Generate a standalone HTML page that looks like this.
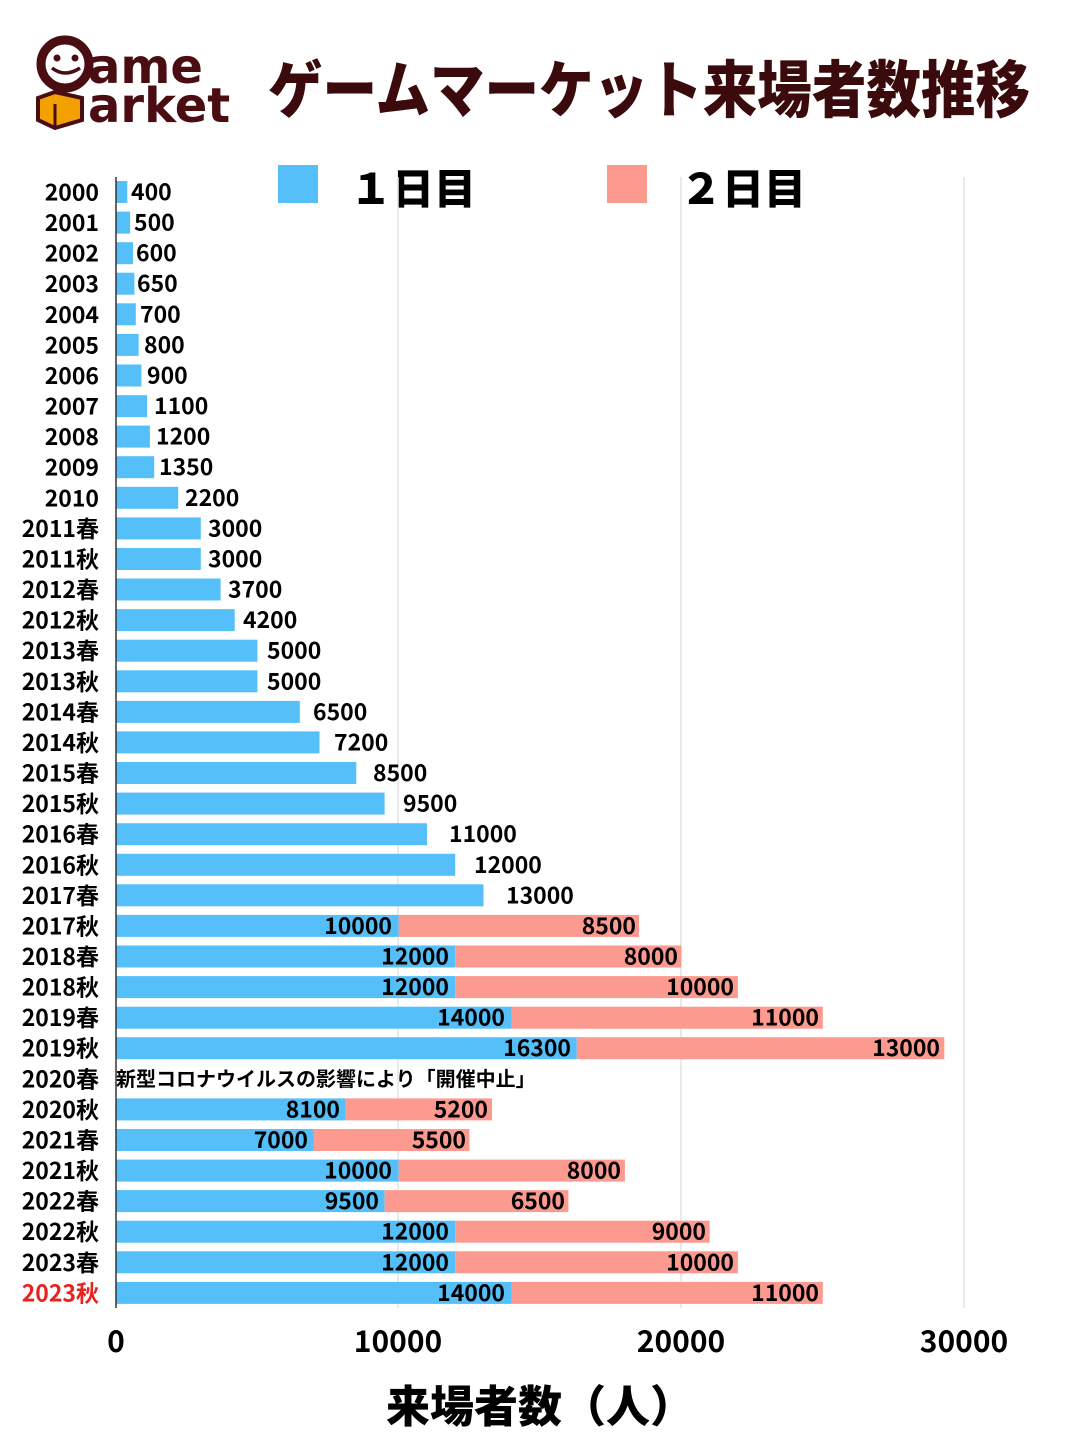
<!DOCTYPE html>
<html><head><meta charset="utf-8"><style>
html,body{margin:0;padding:0;background:#fff;}
svg text{font-family:"Noto Sans CJK JP","Liberation Sans",sans-serif;font-weight:bold;}
.b{fill:#55bffa}.p{fill:#fd9a8f}
.y{font-size:23px;text-anchor:end}
.v{font-size:23px}
.e{font-size:23px;text-anchor:end}
</style></head><body>
<svg width="1080" height="1440" xmlns="http://www.w3.org/2000/svg">
<rect width="1080" height="1440" fill="#fff"/>
<g fill="#4a0d12">
<circle cx="65" cy="64" r="24" fill="none" stroke="#4a0d12" stroke-width="9"/>
<circle cx="57" cy="58" r="3.5"/><circle cx="75" cy="58" r="3.5"/>
<path d="M52 68 Q65 78 80 68" stroke="#4a0d12" stroke-width="3.5" fill="none"/>
<text x="88" y="83" font-size="48" style="font-family:'DejaVu Sans',sans-serif">ame</text>
<text x="88" y="122" font-size="48" style="font-family:'DejaVu Sans',sans-serif">arket</text>
</g>
<path d="M38 98 L55 92 L82 98 L82 120 L55 128 L38 120 Z" fill="#f3a100" stroke="#4a0d12" stroke-width="4"/>
<path d="M55 104 L55 128" stroke="#4a0d12" stroke-width="3"/>
<text x="268" y="112" font-size="62" fill="#3a0a0c" style="font-weight:900;font-family:'Noto Sans CJK JP',sans-serif" textLength="762" lengthAdjust="spacingAndGlyphs">ゲームマーケット来場者数推移</text>
<rect x="278" y="165" width="40" height="38" fill="#55bffa"/>
<text x="350" y="204" font-size="42" style="font-family:'Noto Sans CJK JP',sans-serif;font-weight:900">１日目</text>
<rect x="607" y="165" width="40" height="38" fill="#fd9a8f"/>
<text x="680" y="204" font-size="42" style="font-family:'Noto Sans CJK JP',sans-serif;font-weight:900">２日目</text>
<g stroke="#e4e4e4" stroke-width="1.5">
<line x1="398" y1="177" x2="398" y2="1308"/>
<line x1="681" y1="177" x2="681" y2="1308"/>
<line x1="964" y1="177" x2="964" y2="1308"/>
</g>
<text class="y" x="99" y="200.5">2000</text>
<text class="y" x="99" y="231">2001</text>
<text class="y" x="99" y="261.6">2002</text>
<text class="y" x="99" y="292.2">2003</text>
<text class="y" x="99" y="322.8">2004</text>
<text class="y" x="99" y="353.4">2005</text>
<text class="y" x="99" y="384">2006</text>
<text class="y" x="99" y="414.5">2007</text>
<text class="y" x="99" y="445.1">2008</text>
<text class="y" x="99" y="475.7">2009</text>
<text class="y" x="99" y="506.3">2010</text>
<text class="y" x="99" y="536.9">2011春</text>
<text class="y" x="99" y="567.5">2011秋</text>
<text class="y" x="99" y="598">2012春</text>
<text class="y" x="99" y="628.6">2012秋</text>
<text class="y" x="99" y="659.2">2013春</text>
<text class="y" x="99" y="689.8">2013秋</text>
<text class="y" x="99" y="720.4">2014春</text>
<text class="y" x="99" y="750.9">2014秋</text>
<text class="y" x="99" y="781.5">2015春</text>
<text class="y" x="99" y="812.1">2015秋</text>
<text class="y" x="99" y="842.7">2016春</text>
<text class="y" x="99" y="873.3">2016秋</text>
<text class="y" x="99" y="903.8">2017春</text>
<text class="y" x="99" y="934.4">2017秋</text>
<text class="y" x="99" y="965">2018春</text>
<text class="y" x="99" y="995.6">2018秋</text>
<text class="y" x="99" y="1026.2">2019春</text>
<text class="y" x="99" y="1056.7">2019秋</text>
<text class="y" x="99" y="1087.3">2020春</text>
<text class="y" x="99" y="1117.9">2020秋</text>
<text class="y" x="99" y="1148.5">2021春</text>
<text class="y" x="99" y="1179.1">2021秋</text>
<text class="y" x="99" y="1209.6">2022春</text>
<text class="y" x="99" y="1240.2">2022秋</text>
<text class="y" x="99" y="1270.8">2023春</text>
<text class="y" x="99" y="1301.4" fill="#e8231e">2023秋</text>
<rect class="b" x="116" y="181" width="11.3" height="22"/><text class="v" x="131" y="200">400</text>
<rect class="b" x="116" y="211.6" width="14.1" height="22"/><text class="v" x="134" y="230.6">500</text>
<rect class="b" x="116" y="242.2" width="17" height="22"/><text class="v" x="136" y="261.2">600</text>
<rect class="b" x="116" y="272.7" width="18.4" height="22"/><text class="v" x="137" y="291.7">650</text>
<rect class="b" x="116" y="303.3" width="19.8" height="22"/><text class="v" x="140" y="322.3">700</text>
<rect class="b" x="116" y="333.9" width="22.6" height="22"/><text class="v" x="144" y="352.9">800</text>
<rect class="b" x="116" y="364.5" width="25.4" height="22"/><text class="v" x="147" y="383.5">900</text>
<rect class="b" x="116" y="395.1" width="31.1" height="22"/><text class="v" x="154" y="414.1">1100</text>
<rect class="b" x="116" y="425.6" width="33.9" height="22"/><text class="v" x="156" y="444.6">1200</text>
<rect class="b" x="116" y="456.2" width="38.2" height="22"/><text class="v" x="159" y="475.2">1350</text>
<rect class="b" x="116" y="486.8" width="62.2" height="22"/><text class="v" x="185" y="505.8">2200</text>
<rect class="b" x="116" y="517.4" width="84.8" height="22"/><text class="v" x="208" y="536.4">3000</text>
<rect class="b" x="116" y="548" width="84.8" height="22"/><text class="v" x="208" y="567">3000</text>
<rect class="b" x="116" y="578.5" width="104.6" height="22"/><text class="v" x="228" y="597.5">3700</text>
<rect class="b" x="116" y="609.1" width="118.7" height="22"/><text class="v" x="243" y="628.1">4200</text>
<rect class="b" x="116" y="639.7" width="141.4" height="22"/><text class="v" x="267" y="658.7">5000</text>
<rect class="b" x="116" y="670.3" width="141.4" height="22"/><text class="v" x="267" y="689.3">5000</text>
<rect class="b" x="116" y="700.9" width="183.8" height="22"/><text class="v" x="313" y="719.9">6500</text>
<rect class="b" x="116" y="731.4" width="203.5" height="22"/><text class="v" x="334" y="750.4">7200</text>
<rect class="b" x="116" y="762" width="240.3" height="22"/><text class="v" x="373" y="781">8500</text>
<rect class="b" x="116" y="792.6" width="268.6" height="22"/><text class="v" x="403" y="811.6">9500</text>
<rect class="b" x="116" y="823.2" width="311" height="22"/><text class="v" x="449" y="842.2">11000</text>
<rect class="b" x="116" y="853.8" width="339.2" height="22"/><text class="v" x="474" y="872.8">12000</text>
<rect class="b" x="116" y="884.3" width="367.5" height="22"/><text class="v" x="506" y="903.3">13000</text>
<rect class="b" x="116" y="914.9" width="282.7" height="22"/><rect class="p" x="398.7" y="914.9" width="240.3" height="22"/><text class="e" x="392" y="933.9">10000</text><text class="e" x="636" y="933.9">8500</text>
<rect class="b" x="116" y="945.5" width="339.2" height="22"/><rect class="p" x="455.2" y="945.5" width="226.2" height="22"/><text class="e" x="449" y="964.5">12000</text><text class="e" x="678" y="964.5">8000</text>
<rect class="b" x="116" y="976.1" width="339.2" height="22"/><rect class="p" x="455.2" y="976.1" width="282.7" height="22"/><text class="e" x="449" y="995.1">12000</text><text class="e" x="734" y="995.1">10000</text>
<rect class="b" x="116" y="1006.7" width="395.8" height="22"/><rect class="p" x="511.8" y="1006.7" width="311" height="22"/><text class="e" x="505" y="1025.7">14000</text><text class="e" x="819" y="1025.7">11000</text>
<rect class="b" x="116" y="1037.2" width="460.8" height="22"/><rect class="p" x="576.8" y="1037.2" width="367.5" height="22"/><text class="e" x="571" y="1056.2">16300</text><text class="e" x="940" y="1056.2">13000</text>
<text x="116" y="1086" font-size="20" style="font-family:'Noto Sans CJK JP',sans-serif;font-weight:bold">新型コロナウイルスの影響により「開催中止」</text>
<rect class="b" x="116" y="1098.4" width="229" height="22"/><rect class="p" x="345" y="1098.4" width="147" height="22"/><text class="e" x="340" y="1117.4">8100</text><text class="e" x="488" y="1117.4">5200</text>
<rect class="b" x="116" y="1129" width="197.9" height="22"/><rect class="p" x="313.9" y="1129" width="155.5" height="22"/><text class="e" x="308" y="1148">7000</text><text class="e" x="466" y="1148">5500</text>
<rect class="b" x="116" y="1159.6" width="282.7" height="22"/><rect class="p" x="398.7" y="1159.6" width="226.2" height="22"/><text class="e" x="392" y="1178.6">10000</text><text class="e" x="621" y="1178.6">8000</text>
<rect class="b" x="116" y="1190.1" width="268.6" height="22"/><rect class="p" x="384.6" y="1190.1" width="183.8" height="22"/><text class="e" x="379" y="1209.1">9500</text><text class="e" x="565" y="1209.1">6500</text>
<rect class="b" x="116" y="1220.7" width="339.2" height="22"/><rect class="p" x="455.2" y="1220.7" width="254.4" height="22"/><text class="e" x="449" y="1239.7">12000</text><text class="e" x="706" y="1239.7">9000</text>
<rect class="b" x="116" y="1251.3" width="339.2" height="22"/><rect class="p" x="455.2" y="1251.3" width="282.7" height="22"/><text class="e" x="449" y="1270.3">12000</text><text class="e" x="734" y="1270.3">10000</text>
<rect class="b" x="116" y="1281.9" width="395.8" height="22"/><rect class="p" x="511.8" y="1281.9" width="311" height="22"/><text class="e" x="505" y="1300.9">14000</text><text class="e" x="819" y="1300.9">11000</text>
<line x1="116" y1="177" x2="116" y2="1308" stroke="#333" stroke-width="1.5"/>
<g font-size="30" text-anchor="middle">
<text x="116" y="1352">0</text><text x="398" y="1352">10000</text><text x="681" y="1352">20000</text><text x="964" y="1352">30000</text>
</g>
<text x="540" y="1422" font-size="44" text-anchor="middle" style="font-family:'Noto Sans CJK JP',sans-serif;font-weight:900">来場者数（人）</text>
</svg>
</body></html>
